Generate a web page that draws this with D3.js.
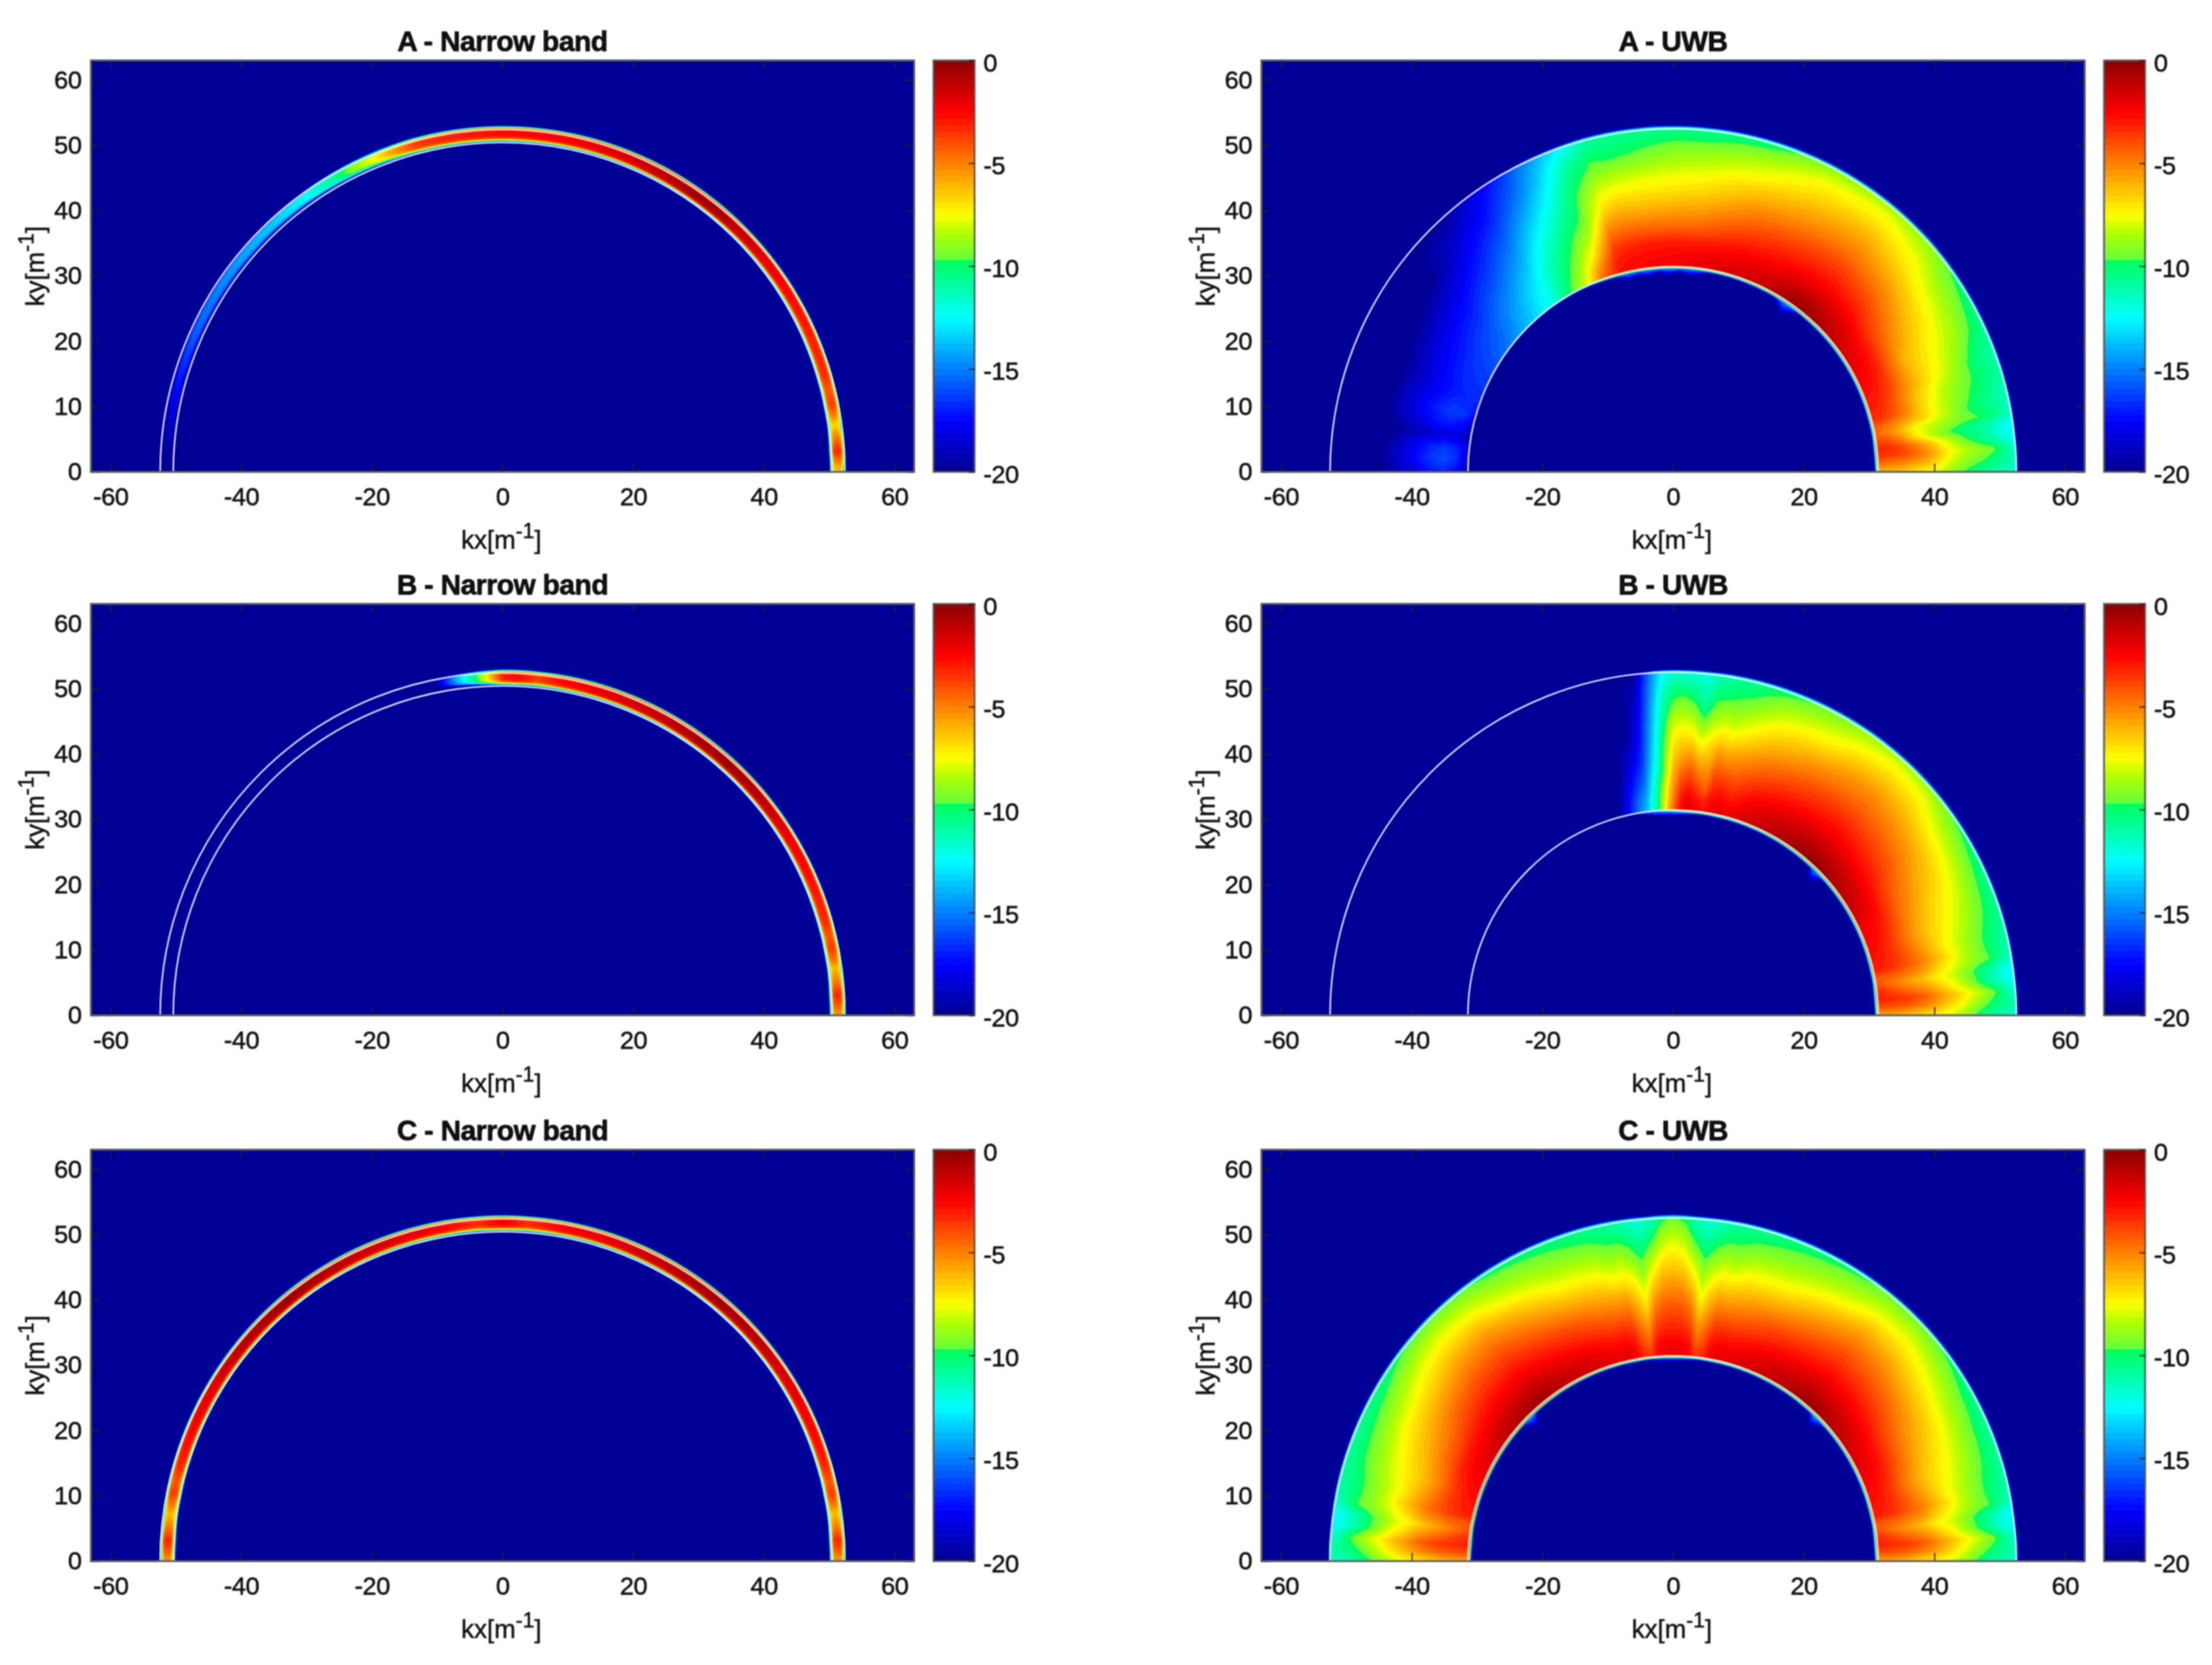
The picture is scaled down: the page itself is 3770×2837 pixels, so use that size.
<!DOCTYPE html>
<html>
<head>
<meta charset="utf-8">
<script src="https://cdn.jsdelivr.net/npm/d3@7"></script>
<style>
html, body { margin: 0; padding: 0; background: #fff; }
#chart { position: relative; width: 3770px; height: 2837px; overflow: hidden; }
#chart canvas { position: absolute; filter: blur(0.8px); }
#chart svg { position: absolute; left: 0; top: 0; filter: blur(0.8px); }
text { font-family: "Liberation Sans", Arial, sans-serif; fill: #111; }
</style>
</head>
<body>
<div id="chart"></div>
<script>
var xTicks = [-60, -40, -20, 0, 20, 40, 60];
var yTicks = [0, 10, 20, 30, 40, 50, 60];
var barTicks = [0, -5, -10, -15, -20];

// colour bar: value -> colour, has a jump just above -10
var colorValues = [-20, -17.5, -12.5, -9.7, -9.69, -8.4, -7.5, -2.5, 0];
var colorNames = ["#00008f", "#0000ff", "#00ffff", "#00ff5a", "#64ff3c", "#afff00", "#ffff00", "#ff0000", "#8c0000"];

// narrow band: radial roll-off around the peak (dB)
var nbRadii = [49.75, 50.0, 50.2, 50.4, 50.6, 50.8, 51.3, 51.8, 52.0, 52.2, 52.35, 52.5, 52.7];
var nbRolloff = [-22, -14, -8, -4, -1.5, -0.5, 0, -0.4, -1.5, -4.5, -9, -15, -22];

// narrow band: peak level against angle (deg)
var aNbAngles = [0, 1.5, 3, 5, 7.5, 9, 11, 13.5, 16, 20, 30, 40, 50, 55, 62, 70, 80, 90, 100, 105, 108, 113, 117, 120, 127, 134, 145, 156, 165, 172, 180];
var aNbPeak = [-6, -4.5, -3, -4.5, -6.5, -5, -3.5, -4, -3.2, -3, -2.5, -1.5, -0.3, -0.2, -0.8, -1.6, -2.2, -2.5, -3, -3.5, -5, -7.5, -9, -10.5, -12.5, -13.5, -14.5, -15.5, -17, -18.5, -20];
var bNbAngles = [0, 1.5, 3, 5, 7.5, 9, 11, 13, 16, 20, 30, 40, 48, 60, 70, 80, 82, 84, 86, 88, 90, 92, 94, 96, 98, 100, 102, 180];
var bNbPeak = [-5, -3.8, -3, -4.5, -6, -4.5, -3.5, -4, -3, -2.8, -2, -0.7, -0.1, -0.8, -1.5, -2.5, -3, -3.5, -2.8, -2.5, -3, -6, -9, -11.5, -14, -17, -20, -20];
var cNbAngles = [0, 1.5, 3, 5, 7.5, 9, 11, 13, 16, 20, 30, 40, 50, 60, 70, 80, 84, 86, 88, 90];
var cNbPeak = [-5, -3.8, -3, -4.5, -6, -4.8, -3.5, -4, -3, -2.5, -1.6, -0.8, -0.2, -0.8, -1.6, -2.3, -3, -3.2, -2.6, -2.2];

// UWB: one row per angle, one column per radius (dB)
var uwbRadii = [31.4, 33, 35, 37, 39, 41, 43, 45, 47, 49, 51, 52.5];

var aUwbAngles = [0, 2, 4, 6, 8, 10, 12, 14, 17, 20, 26, 35, 41, 50, 55, 63, 73, 84, 90, 97, 102, 105, 110, 115, 120, 126, 133, 142, 150, 160, 165, 168, 171, 174, 177, 180];
var aUwbRows = [
  [-5.8, -6, -6.3, -6.8, -7.3, -8, -9, -9.8, -10.4, -10.9, -11.3, -11.6],
  [-4.6, -4.8, -5, -5.5, -6, -7, -8.2, -9, -9.5, -10.1, -10.8, -11.2],
  [-3.4, -3.6, -3.8, -4.4, -5.2, -6.5, -7.6, -8.3, -8.9, -9.4, -10.7, -11.8],
  [-3.2, -3.3, -3.8, -4.8, -5.9, -7.2, -8.4, -9.5, -10.3, -11.2, -12.1, -12.6],
  [-3.8, -4, -5, -6.6, -7.9, -8.9, -9.8, -10.4, -10.8, -11.3, -12.1, -12.6],
  [-4.6, -4.9, -5.9, -7.2, -8, -8.4, -8.9, -9.4, -9.6, -10, -10.9, -11.6],
  [-4.3, -4.6, -5.3, -6, -6.6, -7.6, -8.5, -9.4, -10, -10.5, -11, -11.5],
  [-3.4, -3.6, -4.2, -5.2, -6.5, -7.6, -8.5, -9.2, -9.8, -10.3, -10.9, -11.4],
  [-3, -3.2, -4, -5.2, -6.4, -7.3, -8.2, -8.9, -9.5, -10, -10.6, -11],
  [-2.8, -3, -3.7, -4.8, -5.9, -6.8, -7.6, -8.4, -9.3, -10.2, -10.7, -11.1],
  [-2.2, -2.5, -3.2, -4.6, -5.9, -6.6, -7.2, -7.8, -8.4, -9.2, -10, -10.7],
  [-1.6, -2, -2.8, -3.8, -4.6, -5.4, -6.2, -6.9, -7.7, -8.5, -9.3, -9.9],
  [-1, -1.4, -2.2, -3, -3.8, -4.6, -5.4, -6.2, -7, -7.6, -8.4, -9],
  [-0.2, -0.8, -1.8, -2.6, -3.3, -4, -4.8, -5.5, -6.2, -7, -7.7, -8.8],
  [-0.2, -0.9, -1.9, -2.7, -3.4, -4.1, -4.9, -5.6, -6.3, -7.1, -7.9, -8.9],
  [-1.2, -1.6, -2.3, -3, -3.7, -4.5, -5.3, -6, -6.7, -7.3, -8.2, -9.4],
  [-1.6, -2, -2.6, -3.4, -4.2, -5, -5.8, -6.6, -7.5, -8.3, -9.4, -10.4],
  [-2, -2.3, -3, -4.2, -5.2, -6, -6.8, -7.4, -8.2, -9, -9.9, -10.6],
  [-2.2, -2.5, -3, -4.3, -5.3, -6.2, -7, -7.6, -8.4, -9.1, -9.9, -10.5],
  [-2.4, -2.6, -3.1, -4.3, -5.4, -6.3, -7.1, -7.8, -8.8, -9.6, -10.2, -10.7],
  [-2.6, -2.8, -3.3, -4.3, -5.3, -6.2, -7.1, -8, -8.9, -9.9, -10.4, -10.8],
  [-2.8, -3, -3.6, -4.6, -5.6, -6.7, -7.5, -8.3, -9.1, -9.7, -10.5, -11],
  [-4.5, -5.5, -7, -8, -9, -9.5, -9.7, -10, -10.5, -11, -12, -12.8],
  [-8, -8.5, -9.2, -9.7, -10.2, -10.8, -11.5, -12.2, -12.8, -13.5, -14, -14.5],
  [-9.8, -10.2, -10.6, -11, -11.6, -12.4, -13.2, -14, -14.8, -15.5, -16, -16.5],
  [-12, -12.3, -12.6, -13.2, -13.9, -14.6, -15.3, -16, -16.7, -17.3, -17.8, -18.2],
  [-13.5, -13.8, -14.2, -14.8, -15.5, -16.2, -16.8, -17.4, -18, -18.7, -19.5, -20],
  [-15, -15.4, -15.8, -16.3, -16.9, -17.5, -18.2, -19, -20, -20, -20, -20],
  [-16, -16.2, -16.5, -17, -17.5, -18.2, -19, -20, -20, -20, -20, -20],
  [-16.8, -16.8, -17, -17.4, -18, -18.7, -19.5, -20, -20, -20, -20, -20],
  [-17.5, -16.5, -16.3, -16.8, -17.4, -18.2, -19, -20, -20, -20, -20, -20],
  [-19, -17.5, -17, -17.2, -17.8, -18.5, -19.2, -20, -20, -20, -20, -20],
  [-19.5, -18.5, -18.2, -18.5, -19, -19.5, -20, -20, -20, -20, -20, -20],
  [-19, -17, -16.5, -16.8, -17.6, -18.5, -19.4, -20, -20, -20, -20, -20],
  [-19, -16.8, -16, -16.4, -17.2, -18, -19, -20, -20, -20, -20, -20],
  [-19.5, -17.5, -16.8, -17, -17.6, -18.5, -19.5, -20, -20, -20, -20, -20]
];

// low angle ripple, B and C look the same here
var lowAngles = [0, 2, 4, 6, 8, 10, 12, 14];
var lowRows = [
  [-5.5, -5.6, -5.8, -6.3, -6.8, -7.3, -8, -8.9, -10, -10.8, -11.2, -11.5],
  [-4, -4, -4.2, -4.6, -5.2, -6, -6.9, -7.9, -9, -10, -10.7, -11],
  [-3, -3.2, -3.4, -3.8, -4.4, -5.4, -6.3, -7.2, -8.2, -9.3, -10.7, -11.8],
  [-3.2, -3.6, -4.3, -4.9, -5.5, -6.5, -7.4, -8.6, -9.8, -11, -12.1, -12.6],
  [-4, -4.5, -5.2, -5.8, -6.5, -7.4, -8, -9, -10, -11, -12.1, -12.6],
  [-4.2, -4.3, -4.5, -5, -5.5, -6.6, -7.4, -8.3, -9.1, -9.6, -10.7, -11.6],
  [-3, -3.2, -3.6, -4.3, -5, -6, -7, -8.1, -9, -9.8, -10.6, -11.1],
  [-2.8, -3, -3.5, -4.3, -5.3, -6.3, -7.4, -8.2, -9, -9.8, -10.5, -11]
];

var bUwbAngles = lowAngles.concat([18, 23, 29, 35, 41, 48, 54, 60, 65, 70, 75, 78, 80, 82, 84, 86, 88, 90, 92, 94, 97, 100, 103, 105]);
var bUwbRows = lowRows.concat([
  [-2.6, -2.8, -3.5, -4.6, -5.6, -6.5, -7.1, -7.8, -8.6, -9.4, -10.1, -10.8],
  [-2.2, -2.5, -3.1, -4.2, -5.2, -6, -6.7, -7.3, -8, -9, -9.9, -10.6],
  [-1.5, -1.9, -2.6, -3.7, -4.6, -5.3, -6, -6.6, -7.4, -8.4, -9.5, -10.2],
  [-1, -1.4, -2.2, -3, -3.8, -4.5, -5.3, -6, -6.9, -7.9, -8.9, -9.8],
  [-0.5, -1, -1.9, -2.7, -3.4, -4.1, -4.8, -5.5, -6.2, -7, -7.9, -9],
  [-0.1, -0.7, -1.6, -2.4, -3.1, -3.8, -4.5, -5.1, -5.9, -6.8, -7.6, -8.7],
  [-0.4, -0.9, -1.7, -2.5, -3.2, -3.9, -4.7, -5.4, -6.2, -7.1, -8, -8.9],
  [-0.8, -1.2, -1.9, -2.7, -3.5, -4.2, -5, -5.9, -6.9, -7.7, -8.6, -9.5],
  [-1.2, -1.5, -2.2, -3, -3.8, -4.6, -5.5, -6.3, -7.1, -8, -8.9, -9.8],
  [-1.6, -2, -2.6, -3.4, -4.2, -5, -5.9, -6.7, -7.5, -8.4, -9.3, -10.2],
  [-2.1, -2.6, -3.4, -4.1, -4.9, -5.7, -6.7, -7.6, -8.4, -9.3, -10, -10.6],
  [-2, -2.2, -3, -3.9, -5, -6, -7.1, -8.1, -8.9, -9.6, -10.3, -10.8],
  [-2.4, -2.6, -3.2, -3.9, -4.8, -5.8, -6.9, -7.9, -8.8, -9.8, -10.5, -11],
  [-2.8, -3.2, -4.6, -5.2, -5.9, -6.6, -7.4, -8.4, -9.2, -10, -10.8, -11.3],
  [-2.2, -2.8, -3.8, -4.9, -6, -7.2, -8.3, -9.4, -10.5, -11.2, -11.7, -12],
  [-1.8, -2.2, -3.1, -4, -5.1, -6.2, -7.3, -8.3, -9.3, -10.3, -11.2, -12],
  [-2.6, -3, -3.6, -4.5, -5.5, -6.3, -7.1, -8, -8.9, -9.8, -11, -12],
  [-4.5, -5, -5.5, -6, -6.5, -7, -7.5, -8.3, -9.2, -10, -11, -12],
  [-7.2, -7.6, -7.9, -9, -9.2, -9.6, -10, -10.4, -11, -11.5, -12.2, -12.6],
  [-10, -10.3, -11, -11.8, -12.4, -12.8, -13.2, -13.6, -14, -14.4, -14.8, -15],
  [-13.5, -14, -15, -15.8, -16.5, -17, -17.5, -18, -18.5, -19, -19.5, -20],
  [-15.5, -16, -17, -17.8, -18.6, -19.2, -20, -20, -20, -20, -20, -20],
  [-18, -18.5, -19.2, -19.8, -20, -20, -20, -20, -20, -20, -20, -20],
  [-20, -20, -20, -20, -20, -20, -20, -20, -20, -20, -20, -20]
]);

var cUwbAngles = lowAngles.concat([18, 24, 30, 36, 43, 50, 56, 67, 75, 78, 80, 82, 84, 86, 88, 90]);
var cUwbRows = lowRows.concat([
  [-2.6, -2.8, -3.5, -4.7, -5.7, -6.6, -7.2, -7.9, -8.7, -9.5, -10.2, -10.9],
  [-2, -2.3, -3, -4.1, -5.1, -6, -6.7, -7.4, -8.3, -9.2, -10.1, -10.8],
  [-1.6, -2, -2.7, -3.7, -4.6, -5.4, -6.1, -6.9, -7.9, -8.8, -9.8, -10.5],
  [-1.1, -1.5, -2.3, -3.1, -3.9, -4.7, -5.6, -6.5, -7.3, -8.2, -9.2, -10],
  [-0.6, -1.1, -1.9, -2.7, -3.5, -4.2, -5, -5.8, -6.7, -7.6, -8.6, -9.6],
  [-0.2, -0.8, -1.7, -2.5, -3.3, -4, -4.8, -5.6, -6.6, -7.7, -8.7, -9.6],
  [-0.8, -1.2, -2, -2.8, -3.6, -4.4, -5.3, -6.2, -7.4, -8.3, -9.2, -10],
  [-1.5, -1.8, -2.5, -3.4, -4.2, -5.3, -6.3, -7.4, -8.2, -9, -9.7, -10.4],
  [-1.9, -2.3, -3, -3.9, -4.8, -5.7, -6.6, -7.5, -8.4, -9.3, -10, -10.7],
  [-2, -2.2, -3, -3.9, -4.9, -5.9, -7, -8, -8.9, -9.6, -10.3, -10.9],
  [-2.3, -2.6, -3.2, -4, -4.9, -5.8, -6.9, -7.8, -8.7, -9.6, -10.5, -11.1],
  [-3.2, -3.7, -4.3, -5.1, -5.8, -6.6, -7.4, -8.3, -9.2, -10, -10.9, -11.5],
  [-3.4, -4.2, -5.1, -5.9, -6.9, -7.7, -8.5, -9.2, -10, -10.8, -11.5, -12],
  [-2.4, -2.6, -3.4, -4.2, -5, -5.9, -6.8, -7.8, -8.8, -9.8, -10.8, -11.6],
  [-2.1, -2.3, -3, -3.7, -4.3, -5.1, -5.9, -6.7, -7.5, -8.4, -9.3, -10.2],
  [-2, -2.2, -3, -3.6, -4.2, -5, -5.7, -6.5, -7.2, -8, -8.8, -9.5]
]);

// UWB edge loss (dB), sharp fall off at the two rims
var edgeRadii = [30.3, 30.7, 30.95, 31.15, 31.3, 52.4, 52.6, 52.8, 53.0];
var edgeLoss = [-30, -18, -10, -4, 0, 0, -3, -7, -11];

// blue fringe reaching inside the inner rim (depth in m^-1)
var aFringeAngles = [50, 53, 56, 59, 62, 78, 82, 85, 88, 91, 94, 97, 100, 103, 106, 110];
var aFringeDepth = [0, 1, 2.2, 0.5, 0, 0, 0.8, 1.3, 0.7, 1.3, 0.7, 1.3, 0.8, 1.2, 0.5, 0];
var bFringeAngles = [40, 43, 45, 47, 50, 80, 85, 90, 95, 100];
var bFringeDepth = [0, 1, 2.2, 0.6, 0, 0, 0.6, 0.8, 0.6, 0];
var cFringeAngles = [40, 43, 45, 47, 50, 80, 85, 90];
var cFringeDepth = [0, 1, 2.2, 0.6, 0, 0, 0.5, 0.7];

var nbArcs = [50.4, 52.4];
var uwbArcs = [31.4, 52.5];

var panelLefts = [155, 2150];
var panelTops = [103, 1029, 1959];
var plotW = 1403, plotH = 701;
var barGap = 33, barW = 70;

var panels = [
  {title: "A - Narrow band", col: 0, row: 0, arcs: nbArcs, angles: aNbAngles, peak: aNbPeak},
  {title: "A - UWB", col: 1, row: 0, arcs: uwbArcs, angles: aUwbAngles, rows: aUwbRows, fa: aFringeAngles, fd: aFringeDepth},
  {title: "B - Narrow band", col: 0, row: 1, arcs: nbArcs, angles: bNbAngles, peak: bNbPeak},
  {title: "B - UWB", col: 1, row: 1, arcs: uwbArcs, angles: bUwbAngles, rows: bUwbRows, fa: bFringeAngles, fd: bFringeDepth},
  {title: "C - Narrow band", col: 0, row: 2, arcs: nbArcs, mirror: true, angles: cNbAngles, peak: cNbPeak},
  {title: "C - UWB", col: 1, row: 2, arcs: uwbArcs, mirror: true, angles: cUwbAngles, rows: cUwbRows, fa: cFringeAngles, fd: cFringeDepth}
];

// 64 flat levels like the original colormap
var levels = 64;
var colorScale = d3.scaleLinear().domain(colorValues).range(colorNames).clamp(true);
var palette = d3.range(levels).map(function (i) {
  return d3.rgb(colorScale(-20 + (i + 0.5) * 20 / levels));
});
var barLevels = d3.range(levels);

function levelOf(v) {
  return Math.max(0, Math.min(levels - 1, Math.floor((v + 20) / 20 * levels)));
}

function indexScale(values) {
  return d3.scaleLinear().domain(values).range(d3.range(values.length)).clamp(true);
}

var nbRoll = d3.scaleLinear().domain(nbRadii).range(nbRolloff).clamp(true);
var edgeScale = d3.scaleLinear().domain(edgeRadii).range(edgeLoss).clamp(true);
var uwbIndex = indexScale(uwbRadii);

function nbField(p, kx, ky) {
  var cy = 0.5;
  var r = Math.hypot(kx, ky - cy);
  if (r < 49.7 || r > 52.8) return -20;
  var t = Math.atan2(ky - cy, kx) * 180 / Math.PI;
  if (t < 0) t = t < -90 ? 180 : 0;
  if (p.mirror && t > 90) t = 180 - t;
  return p.peakScale(t) + nbRoll(r);
}

function uwbField(p, kx, ky) {
  var cy = 0.2;
  var r = Math.hypot(kx, ky - cy);
  if (r < 26 || r > 53.2) return -20;
  var t = Math.atan2(ky - cy, kx) * 180 / Math.PI;
  if (t < 0) t = t < -90 ? 180 : 0;
  if (p.mirror && t > 90) t = 180 - t;
  var fi = p.angleIndex(t), ri = uwbIndex(r);
  var i0 = Math.floor(fi), i1 = Math.min(i0 + 1, p.rows.length - 1);
  var j0 = Math.floor(ri), j1 = Math.min(j0 + 1, uwbRadii.length - 1);
  var a = fi - i0, b = ri - j0;
  var v = (1 - a) * ((1 - b) * p.rows[i0][j0] + b * p.rows[i0][j1]) +
    a * ((1 - b) * p.rows[i1][j0] + b * p.rows[i1][j1]);
  v += edgeScale(r);
  if (r < 31) {
    var d = p.fringe(t);
    if (d > 0.05) v = Math.max(v, -14.5 - 5.5 * (31 - r) / d);
  }
  return v;
}

var chart = d3.select("#chart");
var svg = chart.append("svg").attr("width", 3770).attr("height", 2837);

panels.forEach(function (p) {
  var left = panelLefts[p.col], top = panelTops[p.row];
  var x = d3.scaleLinear().domain([-63, 63]).range([left, left + plotW]);
  var y = d3.scaleLinear().domain([0, 63]).range([top + plotH, top]);

  if (p.peak) {
    p.peakScale = d3.scaleLinear().domain(p.angles).range(p.peak).clamp(true);
  } else {
    p.angleIndex = indexScale(p.angles);
    p.fringe = d3.scaleLinear().domain(p.fa).range(p.fd).clamp(true);
  }

  // heat map, one value per pixel
  var canvas = chart.insert("canvas", "svg")
    .attr("width", plotW).attr("height", plotH)
    .style("left", left + "px").style("top", top + "px");
  var ctx = canvas.node().getContext("2d");
  var img = ctx.createImageData(plotW, plotH);
  for (var py = 0; py < plotH; py++) {
    var ky = y.invert(top + py + 0.5);
    for (var px = 0; px < plotW; px++) {
      var kx = x.invert(left + px + 0.5);
      var v = p.peak ? nbField(p, kx, ky) : uwbField(p, kx, ky);
      var c = palette[levelOf(v)], k = (py * plotW + px) * 4;
      img.data[k] = c.r; img.data[k + 1] = c.g; img.data[k + 2] = c.b; img.data[k + 3] = 255;
    }
  }
  ctx.putImageData(img, 0, 0);

  var g = svg.append("g");

  // the two white rims
  var unit = x(1) - x(0);
  g.selectAll(".rim").data(p.arcs).enter().append("path")
    .attr("class", "rim")
    .attr("transform", "translate(" + x(0) + "," + y(0) + ")")
    .attr("d", function (d) {
      return d3.arc()({innerRadius: d * unit, outerRadius: d * unit, startAngle: -Math.PI / 2, endAngle: Math.PI / 2});
    })
    .attr("fill", "none")
    .attr("stroke", "#ececf8")
    .attr("stroke-width", 2.6);

  var fmt = function (d) { return d; };
  var none = function () { return ""; };

  g.append("g").attr("class", "axis").attr("transform", "translate(0," + (top + plotH) + ")")
    .call(d3.axisBottom(x).tickValues(xTicks).tickSizeInner(-14).tickSizeOuter(0).tickPadding(26).tickFormat(fmt));
  g.append("g").attr("class", "axis").attr("transform", "translate(0," + top + ")")
    .call(d3.axisTop(x).tickValues(xTicks).tickSizeInner(-14).tickSizeOuter(0).tickFormat(none));
  g.append("g").attr("class", "axis").attr("transform", "translate(" + left + ",0)")
    .call(d3.axisLeft(y).tickValues(yTicks).tickSizeInner(-14).tickSizeOuter(0).tickPadding(16).tickFormat(fmt));
  g.append("g").attr("class", "axis").attr("transform", "translate(" + (left + plotW) + ",0)")
    .call(d3.axisRight(y).tickValues(yTicks).tickSizeInner(-14).tickSizeOuter(0).tickFormat(none));

  // title
  g.append("text")
    .attr("x", x(0)).attr("y", top - 16)
    .attr("text-anchor", "middle")
    .attr("font-size", 48).attr("font-weight", "bold")
    .attr("letter-spacing", -0.7)
    .attr("stroke", "#000").attr("stroke-width", 1)
    .text(p.title);

  // axis labels with superscript
  function label(sel, name) {
    sel.attr("text-anchor", "middle").attr("font-size", 44)
      .attr("stroke", "#111").attr("stroke-width", 0.7);
    sel.append("tspan").text(name + "[m");
    sel.append("tspan").attr("font-size", 36).attr("dy", -18).text("-1");
    sel.append("tspan").attr("dy", 18).text("]");
  }
  g.append("text").attr("x", x(0) - 2).attr("y", top + plotH + 131).call(label, "kx");
  g.append("text")
    .attr("transform", "translate(" + (left - 80) + "," + (top + plotH / 2) + ") rotate(-90)")
    .call(label, "ky");

  // colour bar
  var barLeft = left + plotW + barGap;
  var barY = d3.scaleLinear().domain([-20, 0]).range([top + plotH, top]);
  g.selectAll(".level").data(barLevels).enter().append("rect")
    .attr("class", "level")
    .attr("x", barLeft)
    .attr("y", function (d) { return barY(-20 + (d + 1) * 20 / levels); })
    .attr("width", barW)
    .attr("height", plotH / levels + 0.5)
    .attr("fill", function (d) { return palette[d]; });
  g.append("rect")
    .attr("x", barLeft).attr("y", top).attr("width", barW).attr("height", plotH)
    .attr("fill", "none").attr("stroke", "#555").attr("stroke-width", 3);
  g.append("g").attr("class", "axis bar").attr("transform", "translate(" + (barLeft + barW) + ",0)")
    .call(d3.axisRight(barY).tickValues(barTicks).tickSizeInner(-10).tickSizeOuter(0).tickPadding(15).tickFormat(fmt));

  // frame on top of everything
  g.append("rect")
    .attr("x", left).attr("y", top).attr("width", plotW).attr("height", plotH)
    .attr("fill", "none").attr("stroke", "#555").attr("stroke-width", 3);
});

svg.selectAll(".axis path").attr("stroke", "none");
svg.selectAll(".axis line").attr("stroke", "#222").attr("stroke-width", 2);
svg.selectAll(".axis text").attr("font-size", 43).attr("fill", "#111")
  .attr("stroke", "#111").attr("stroke-width", 0.8).attr("letter-spacing", -0.6);
svg.selectAll(".bar text").attr("dy", "0.42em");
</script>
</body>
</html>
